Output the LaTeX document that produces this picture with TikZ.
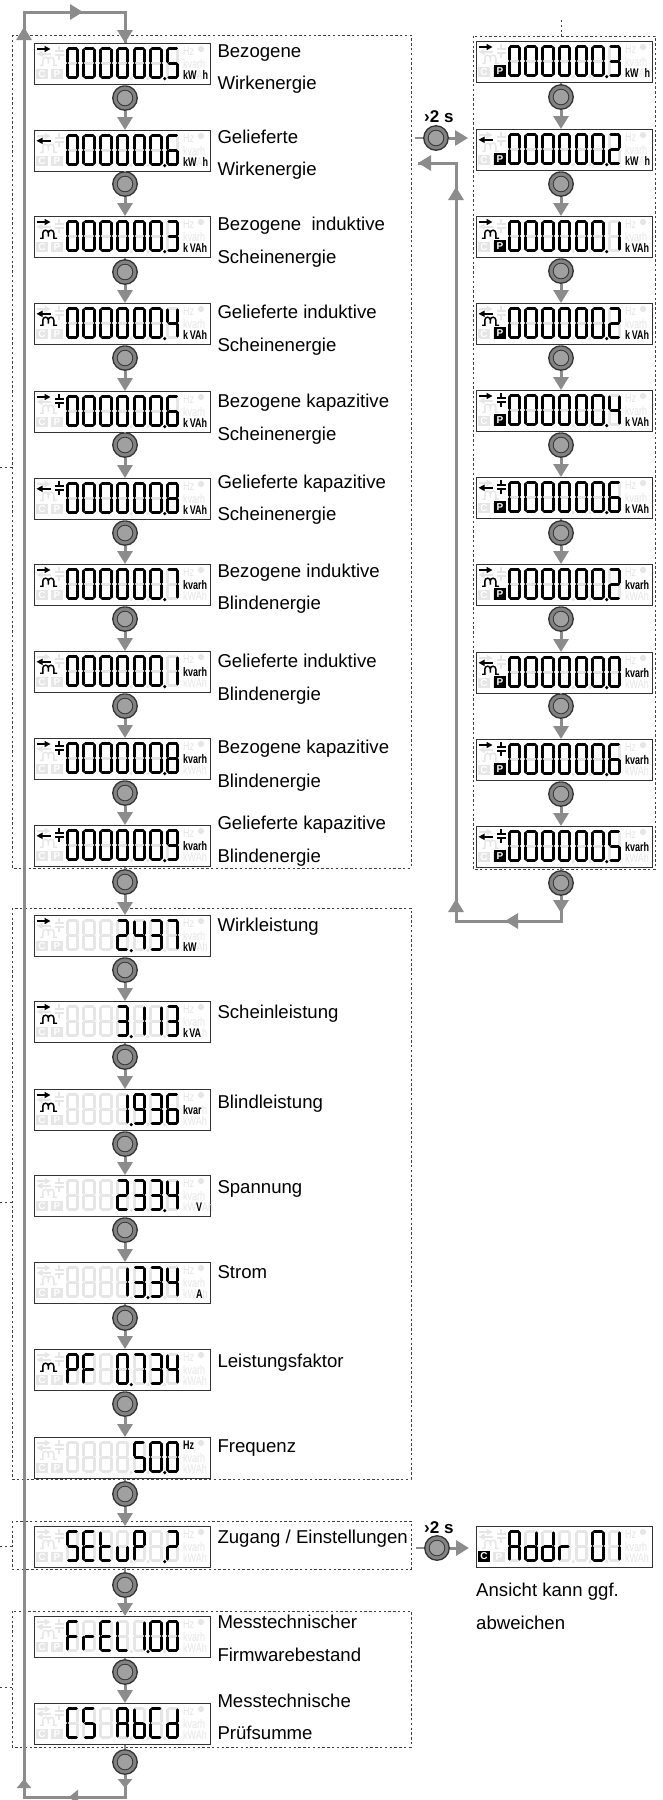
\documentclass[tikz,border=0pt]{standalone}
\usepackage{fontspec}
\setmainfont{Liberation Sans}
\newfontfamily\lcdfont[FakeStretch=0.72]{Liberation Sans}
\usetikzlibrary{arrows.meta}
\definecolor{flowgray}{HTML}{8C8C8C}
\definecolor{ghost}{HTML}{E6E6E6}
\definecolor{btnring}{HTML}{828282}
\definecolor{btncore}{HTML}{A0A0A0}
\definecolor{btnedge}{HTML}{333333}
\tikzset{
  lcdbox/.style={draw=black!80,line width=1pt,fill=white,anchor=north west,minimum width=176pt,minimum height=41pt,inner sep=0pt},
  lcdseg/.style={line width=3pt,line cap=round},
  icoline/.style={line width=1.4pt},
  unittext/.style={anchor=west,inner sep=0pt,font=\lcdfont\fontsize{12.5}{13}\selectfont},
  chipghost/.style={anchor=center,fill=ghost,text=white,inner sep=0pt,font=\bfseries\fontsize{10}{10}\selectfont},
  chipblack/.style={anchor=center,fill=black,text=white,inner sep=0pt,font=\bfseries\fontsize{10}{10}\selectfont},
  lbl/.style={anchor=base west,inner sep=0pt,font=\fontsize{18.6}{20}\selectfont},
  holdlbl/.style={anchor=base west,inner sep=0pt,font=\bfseries\fontsize{17}{18}\selectfont},
  btn/.style={circle,draw=btnedge,line width=1.3pt,fill=btnring,minimum size=24.5pt,inner sep=0pt,
    path picture={\draw[draw=btnedge,line width=.8pt,fill=btncore] (path picture bounding box.center) circle (7.8);}},
  stub/.style={draw=flowgray,line width=2.4pt},
  flowline/.style={draw=flowgray,line width=3pt},
  head/.style={draw=flowgray,line width=3pt,-{Triangle[width=15pt,length=13pt,fill=flowgray,color=flowgray]}},
  headsmall/.style={draw=flowgray,line width=3pt,-{Triangle[width=14pt,length=9pt,fill=flowgray,color=flowgray]}},
  groupbox/.style={draw=black!75,line width=.9pt,dash pattern=on 2.4pt off 2.4pt},
}
% seven segments
\newcommand\lcdsa{\draw[lcdseg] (3,5.2)--(10.6,5.2);}
\newcommand\lcdsb{\draw[lcdseg] (12,6.8)--(12,18.6);}
\newcommand\lcdsc{\draw[lcdseg] (12,21.4)--(12,33.2);}
\newcommand\lcdsd{\draw[lcdseg] (3,34.8)--(10.6,34.8);}
\newcommand\lcdse{\draw[lcdseg] (1.5,21.4)--(1.5,33.2);}
\newcommand\lcdsf{\draw[lcdseg] (1.5,6.8)--(1.5,18.6);}
\newcommand\lcdsg{\draw[lcdseg] (3.2,20)--(10.4,20);}
\expandafter\def\csname lcdg0\endcsname{a,b,c,d,e,f}
\expandafter\def\csname lcdg1\endcsname{b,c}
\expandafter\def\csname lcdg2\endcsname{a,b,g,e,d}
\expandafter\def\csname lcdg3\endcsname{a,b,g,c,d}
\expandafter\def\csname lcdg4\endcsname{f,g,b,c}
\expandafter\def\csname lcdg5\endcsname{a,f,g,c,d}
\expandafter\def\csname lcdg6\endcsname{a,f,g,e,c,d}
\expandafter\def\csname lcdg7\endcsname{a,b,c}
\expandafter\def\csname lcdg8\endcsname{a,b,c,d,e,f,g}
\expandafter\def\csname lcdg9\endcsname{a,b,c,d,f,g}
\expandafter\def\csname lcdgS\endcsname{a,f,g,c,d}
\expandafter\def\csname lcdgE\endcsname{a,f,g,e,d}
\expandafter\def\csname lcdgt\endcsname{f,e,d,g}
\expandafter\def\csname lcdgu\endcsname{e,d,c}
\expandafter\def\csname lcdgP\endcsname{a,b,f,g,e}
\expandafter\def\csname lcdgQ\endcsname{a,b,g,e}
\expandafter\def\csname lcdgF\endcsname{a,f,g,e}
\expandafter\def\csname lcdgr\endcsname{e,g}
\expandafter\def\csname lcdgL\endcsname{f,e,d}
\expandafter\def\csname lcdgC\endcsname{a,f,e,d}
\expandafter\def\csname lcdgA\endcsname{a,b,c,e,f,g}
\expandafter\def\csname lcdgb\endcsname{f,e,d,c,g}
\expandafter\def\csname lcdgd\endcsname{b,c,d,e,g}
\newcommand\lcddigit[2]{\begin{scope}[shift={({31.7+16.7*#1},0)}]\edef\lcdcur{\csname lcdg#2\endcsname}\foreach \s in \lcdcur {\csname lcds\s\endcsname}\end{scope}}
\newcommand\lcddot[1]{\fill ({31.7+16.7*#1+15.5},35.6) circle (1.7);}
% icons
\newcommand\icoR{\draw[icoline,-{Triangle[width=6pt,length=6pt]}] (2.5,6)--(16.5,6);}
\newcommand\icoL{\draw[icoline,-{Triangle[width=6pt,length=6pt]}] (16.5,10.8)--(2.5,10.8);}
\newcommand\icoK{\draw[icoline] (25,3)--(25,8) (21,8)--(29.5,8) (21,12)--(29.5,12) (25,12)--(25,17);}
\newcommand\icoI{\draw[icoline] (6,22.2)--(8.8,22.2)--(8.8,17) arc[start angle=180,end angle=0,x radius=2.75,y radius=-2.8] -- (14.3,20.5) -- (14.3,17) arc[start angle=180,end angle=0,x radius=2.75,y radius=-2.8] -- (19.8,22.2) -- (23,22.2);}
\newcommand\icoP{\node[chipblack,minimum width=11.6pt,minimum height=11.6pt] (\lcdname pa) at (24,30.2) {P};}
\newcommand\icoC{\node[chipblack,minimum width=11.6pt,minimum height=11.6pt] (\lcdname ca) at (8,30.5) {C};}
% unit texts: the dim part of a row stays in the same text
\newcommand\gt[1]{{\mdseries\color{ghost}#1}}
\newcommand\uKWH{\makebox[24pt][s]{\bfseries kW\hfill\gt{A}\hfill h}}
\newcommand\uKW{\makebox[24pt][s]{\bfseries kW\hfill\gt{Ah}}}
\newcommand\uVAH{\makebox[24pt][s]{\bfseries k\hfill VAh}}
\newcommand\uVA{\makebox[24pt][s]{\bfseries k\hfill VA\hfill\gt{h}}}
\newcommand\uKVARH{\makebox[24pt][s]{\bfseries kvarh}}
\newcommand\uKVAR{\makebox[24pt][s]{\bfseries kvar\hfill\gt{h}}}
\newcommand\uV{\makebox[24pt][s]{\gt{kW}\hfill\bfseries V\hfill\gt{Ah}}}
\newcommand\uA{\makebox[24pt][s]{\gt{kW}\hfill\bfseries A\hfill\gt{h}}}
\newcommand\uHZ{\bfseries Hz}
% #1 name #2 x #3 y #4 icons #5 digits idx/char #6 dot (9 none) #7 unit row (1,2,3; 0 none) #8 unit
\newcommand\lcd[8]{%
  \def\lcdname{#1}%
  \edef\lcdlist{#5}%
  \node[lcdbox] (#1) at (#2,#3) {};
  \begin{scope}[shift={(#2,#3)}]
    \begin{scope}[color=ghost]
      \foreach \gi in {0,...,6} {\lcddigit{\gi}{8}}
      \foreach \gi in {3,4,5} {\lcddot{\gi}}
      \icoR \icoL \icoK \icoI
      \fill (167,6) circle (3.1);
    \end{scope}
    \node[chipghost,minimum width=11.6pt,minimum height=10.5pt] (#1 gc) at (8,31) {C};
    \node[chipghost,minimum width=11.6pt,minimum height=10.5pt] (#1 gp) at (23,31) {P};
    \ifnum#7=1 \node[unittext,text=black] (#1 u1) at (149,8.5) {#8};\else \node[unittext,text=ghost] (#1 u1) at (149,8.5) {Hz};\fi
    \ifnum#7=2 \node[unittext,text=black] (#1 u2) at (149,21) {#8};\else \node[unittext,text=ghost] (#1 u2) at (149,21) {kvarh};\fi
    \ifnum#7=3 \node[unittext,text=black] (#1 u3) at (149,32) {#8};\else \node[unittext,text=ghost] (#1 u3) at (149,32) {kWAh};\fi
    \begin{scope}[color=black]
      \foreach \myi/\myc in \lcdlist {\lcddigit{\myi}{\myc}}
      \ifnum#6<9 \lcddot{#6}\fi
      #4
    \end{scope}
  \end{scope}
}
\begin{document}
\begin{tikzpicture}[x=1pt,y=-1pt]
\useasboundingbox (0,0) rectangle (663,1800);
\fill[white] (0,0) rectangle (663,1800);
% dashed groups
\draw[groupbox] (12,35) rectangle (411,868);
\draw[groupbox] (12,908) rectangle (411,1479);
\draw[groupbox] (12,1521) rectangle (411,1569);
\draw[groupbox] (12,1611) rectangle (411,1747);
\draw[groupbox] (473,36) rectangle (655,869);
\coordinate (sA) at (0,467); \coordinate (eA) at (12,467);
\coordinate (sB) at (0,1202); \coordinate (eB) at (12,1202);
\coordinate (sC) at (0,1546); \coordinate (eC) at (12,1546);
\coordinate (sD) at (0,1687); \coordinate (eD) at (12,1687);
\coordinate (sE) at (561,20); \coordinate (eE) at (561,36);
\draw[groupbox] (sA)--(eA) (sB)--(eB) (sC)--(eC) (sD)--(eD) (sE)--(eE);
% displays, left column
\def\AllZ#1{0/0,1/0,2/0,3/0,4/0,5/0,6/#1}
\lcd{L1}{34}{43}{\icoR}{\AllZ{5}}{5}{3}{\uKWH}
\lcd{L2}{34}{130}{\icoL}{\AllZ{6}}{5}{3}{\uKWH}
\lcd{L3}{34}{216}{\icoR\icoI}{\AllZ{3}}{5}{3}{\uVAH}
\lcd{L4}{34}{303}{\icoL\icoI}{\AllZ{4}}{5}{3}{\uVAH}
\lcd{L5}{34}{391}{\icoR\icoK}{\AllZ{6}}{5}{3}{\uVAH}
\lcd{L6}{34}{478}{\icoL\icoK}{\AllZ{8}}{5}{3}{\uVAH}
\lcd{L7}{34}{564}{\icoR\icoI}{\AllZ{7}}{5}{2}{\uKVARH}
\lcd{L8}{34}{651}{\icoL\icoI}{\AllZ{1}}{5}{2}{\uKVARH}
\lcd{L9}{34}{738}{\icoR\icoK}{\AllZ{8}}{5}{2}{\uKVARH}
\lcd{L10}{34}{825}{\icoL\icoK}{\AllZ{9}}{5}{2}{\uKVARH}
\lcd{L11}{34}{915}{\icoR}{3/2,4/4,5/3,6/7}{3}{3}{\uKW}
\lcd{L12}{34}{1001}{\icoR\icoI}{3/3,4/1,5/1,6/3}{3}{3}{\uVA}
\lcd{L13}{34}{1089}{\icoR\icoI}{3/1,4/9,5/3,6/6}{3}{2}{\uKVAR}
\lcd{L14}{34}{1175}{}{3/2,4/3,5/3,6/4}{5}{3}{\uV}
\lcd{L15}{34}{1262}{}{3/1,4/3,5/3,6/4}{4}{3}{\uA}
\lcd{L16}{34}{1349}{\icoI}{0/P,1/F,3/0,4/7,5/3,6/4}{3}{0}{}
\lcd{L17}{34}{1437}{}{4/5,5/0,6/0}{5}{1}{\uHZ}
\lcd{L18}{34}{1526}{}{0/S,1/E,2/t,3/u,4/P,6/Q}{5}{0}{}
\lcd{L19}{34}{1616}{}{0/F,1/r,2/E,3/L,4/1,5/0,6/0}{4}{0}{}
\lcd{L20}{34}{1703}{}{0/C,1/S,3/A,4/b,5/C,6/d}{9}{0}{}
% displays, right column
\lcd{R1}{476}{41}{\icoR\icoP}{\AllZ{3}}{5}{3}{\uKWH}
\lcd{R2}{476}{129}{\icoL\icoP}{\AllZ{2}}{5}{3}{\uKWH}
\lcd{R3}{476}{216}{\icoR\icoI\icoP}{\AllZ{1}}{5}{3}{\uVAH}
\lcd{R4}{476}{303}{\icoL\icoI\icoP}{\AllZ{2}}{5}{3}{\uVAH}
\lcd{R5}{476}{390}{\icoR\icoK\icoP}{\AllZ{4}}{5}{3}{\uVAH}
\lcd{R6}{476}{477}{\icoL\icoK\icoP}{\AllZ{6}}{5}{3}{\uVAH}
\lcd{R7}{476}{564}{\icoR\icoI\icoP}{\AllZ{2}}{5}{2}{\uKVARH}
\lcd{R8}{476}{652}{\icoL\icoI\icoP}{\AllZ{0}}{5}{2}{\uKVARH}
\lcd{R9}{476}{739}{\icoR\icoK\icoP}{\AllZ{6}}{5}{2}{\uKVARH}
\lcd{R10}{476}{826}{\icoL\icoK\icoP}{\AllZ{5}}{5}{2}{\uKVARH}
\lcd{AD}{476}{1526}{\icoC}{0/A,1/d,2/d,3/r,5/0,6/1}{9}{0}{}
% labels
\foreach \nm/\ty/\tx in {
 T1a/57.5/Bezogene, T1b/89.5/Wirkenergie,
 T2a/143.5/Gelieferte, T2b/175.5/Wirkenergie,
 T3a/230.5/{Bezogene\ \ induktive}, T3b/263.5/Scheinenergie,
 T4a/318.5/{Gelieferte induktive}, T4b/351.5/Scheinenergie,
 T5a/407.5/{Bezogene kapazitive}, T5b/440.5/Scheinenergie,
 T6a/488.5/{Gelieferte kapazitive}, T6b/520.5/Scheinenergie,
 T7a/577.5/{Bezogene induktive}, T7b/609.5/Blindenergie,
 T8a/667.5/{Gelieferte induktive}, T8b/700.5/Blindenergie,
 T9a/753.5/{Bezogene kapazitive}, T9b/787.5/Blindenergie,
 T10a/829.5/{Gelieferte kapazitive}, T10b/862.5/Blindenergie,
 T11/931.5/Wirkleistung, T12/1018.5/Scheinleistung, T13/1108.5/Blindleistung,
 T14/1193.5/Spannung, T15/1278.5/Strom, T16/1367.5/Leistungsfaktor, T17/1452.5/Frequenz,
 T18/1543.5/{Zugang / Einstellungen},
 T19a/1628.5/Messtechnischer, T19b/1661.5/Firmwarebestand,
 T20a/1707.5/Messtechnische, T20b/1739.5/Prüfsumme}
 {\node[lbl] (\nm) at (217.3,\ty) {\tx};}
\node[lbl] (N1) at (476,1596.5) {Ansicht kann ggf.};
\node[lbl] (N2) at (476,1629.5) {abweichen};
\node[holdlbl] (H1) at (424,122) {›2 s};
\node[holdlbl] (H2) at (424,1533) {›2 s};
% buttons
\foreach \n/\y in {1/98,2/184,3/272,4/358,5/445,6/533,7/619,8/706,9/793,10/882,11/970,12/1057,13/1144,14/1230,15/1318,16/1404,17/1494,18/1585,19/1672,20/1762}
  {\node[btn] (B\n) at (125,\y) {};}
\foreach \n/\y in {1/97,2/184,3/271,4/358,5/445,6/533,7/619,8/706,9/794,10/883}
  {\node[btn] (C\n) at (561,\y) {};}
\node[btn] (H1b) at (436,138) {};
\node[btn] (H2b) at (437,1548) {};
% connectors, left column
\foreach \a/\b in {1/2,2/3,3/4,4/5,5/6,6/7,7/8,8/9,9/10,10/11,11/12,12/13,13/14,14/15,15/16,16/17,17/18,18/19,19/20} {
  \draw[stub] (B\a |- L\a.south) -- (B\a);
  \draw[head] (B\a) -- (B\a |- L\b.north);
}
\draw[stub] (B20 |- L20.south) -- (B20);
\foreach \a/\b in {1/2,2/3,3/4,4/5,5/6,6/7,7/8,8/9,9/10} {
  \draw[stub] (C\a |- R\a.south) -- (C\a);
  \draw[head] (C\a) -- (C\a |- R\b.north);
}
\draw[stub] (C10 |- R10.south) -- (C10);
% outer loop, left
\coordinate (LBR) at (125,1797);
\coordinate (LBL) at (24,1797);
\coordinate (LTL) at (24,12);
\coordinate (LTR) at (125,12);
\coordinate (a1) at (125,1788);
\coordinate (a2b) at (79,1797); \coordinate (a2t) at (69,1797);
\coordinate (a3b) at (24,1787); \coordinate (a3t) at (24,1779);
\coordinate (a4b) at (24,38); \coordinate (a4t) at (24,27);
\coordinate (a5b) at (72,12); \coordinate (a5t) at (83,12);
\draw[flowline] (B20) -- (LBR) -- (LBL) -- (LTL) -- (LTR) -- (LTR |- L1.north);
\draw[headsmall] (B20) -- (a1);
\draw[headsmall] (a2b) -- (a2t);
\draw[headsmall] (a3b) -- (a3t);
\draw[head] (a4b) -- (a4t);
\draw[head] (a5b) -- (a5t);
\draw[head] (LTR) -- (LTR |- L1.north);
% hold branch 1
\coordinate (H1s) at (415,138); \coordinate (H1t) at (468,138);
\draw[stub] (H1s) -- (H1b);
\draw[head] (H1b) -- (H1t);
% hold branch 2
\coordinate (H2s) at (416,1548); \coordinate (H2t) at (469,1548);
\draw[stub] (H2s) -- (H2b);
\draw[head] (H2b) -- (H2t);
% loop, right column
\coordinate (RBR) at (561,921);
\coordinate (RBL) at (456,921);
\coordinate (RTL) at (456,163);
\coordinate (RE) at (418,163);
\coordinate (r1t) at (561,913);
\coordinate (r2b) at (517,921); \coordinate (r2t) at (505,921);
\coordinate (r3b) at (456,910); \coordinate (r3t) at (456,899);
\coordinate (r4b) at (456,199); \coordinate (r4t) at (456,187);
\draw[flowline] (C10) -- (RBR) -- (RBL) -- (RTL) -- (RE);
\draw[head] (C10) -- (r1t);
\draw[head] (r2b) -- (r2t);
\draw[head] (r3b) -- (r3t);
\draw[head] (r4b) -- (r4t);
\draw[head] (RTL) -- (RE);
\end{tikzpicture}
\end{document}
